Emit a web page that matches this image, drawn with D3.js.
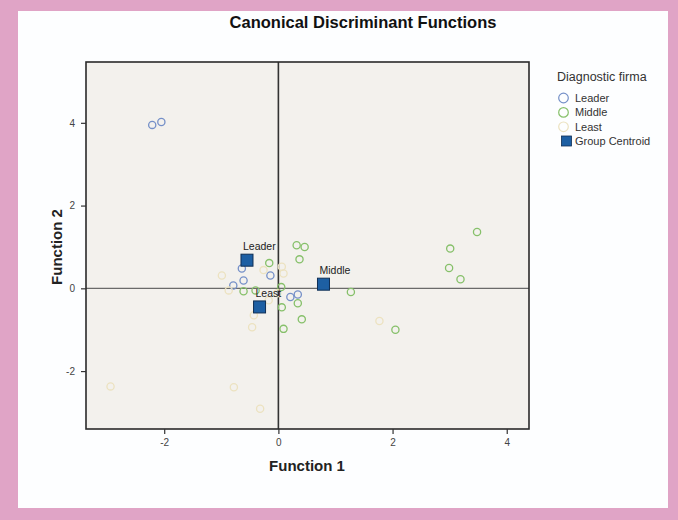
<!DOCTYPE html>
<html>
<head>
<meta charset="utf-8">
<script src="https://cdn.jsdelivr.net/npm/d3@7/dist/d3.min.js"></script>
<style>
  html, body { margin: 0; padding: 0; background: #e0a4c6; }
  svg { display: block; }
  text { font-family: Arial, "Liberation Sans", sans-serif; }
</style>
</head>
<body>
<svg id="chart" width="678" height="520"></svg>
<script>
// Discriminant scores per group (Function 1, Function 2)
const leaderF1 = [-2.21, -2.05, -0.64, -0.61, -0.79, -0.14, 0.21, 0.34];
const leaderF2 = [3.95, 4.02, 0.48, 0.19, 0.07, 0.31, -0.21, -0.15];

const middleF1 = [3.48, 3.01, 2.99, 3.19, 1.27, 2.05, 0.32, 0.46, 0.37, -0.16, -0.61, -0.40, 0.05, 0.06, 0.34, 0.41, 0.09];
const middleF2 = [1.36, 0.96, 0.49, 0.22, -0.09, -1.00, 1.04, 1.00, 0.70, 0.61, -0.07, -0.05, 0.03, -0.46, -0.36, -0.75, -0.98];

const leastF1 = [-2.94, -0.78, -0.32, 1.77, -0.99, -0.87, -0.26, 0.06, 0.09, -0.17, -0.43, -0.46, -0.02];
const leastF2 = [-2.37, -2.39, -2.91, -0.79, 0.31, -0.05, 0.44, 0.52, 0.36, -0.29, -0.65, -0.94, -0.12];

// Group centroids
const centroidNames = ["Leader", "Middle", "Least"];
const centroidF1 = [-0.55, 0.79, -0.33];
const centroidF2 = [0.68, 0.10, -0.45];

const xTicks = [-2, 0, 2, 4];
const yTicks = [-2, 0, 2, 4];

const groupNames = ["Leader", "Middle", "Least"];
const groupColors = ["#7590c8", "#86c06a", "#ece2c0"];

const svg = d3.select("#chart");

// White card inside the pink frame
svg.append("rect").attr("x", 18).attr("y", 11).attr("width", 650).attr("height", 497).attr("fill", "#fdfeff");

const plot = { left: 86, right: 529, top: 62, bottom: 429 };

const x = d3.scaleLinear().domain([-3.37, 4.39]).range([plot.left, plot.right]);
const y = d3.scaleLinear().domain([-3.40, 5.47]).range([plot.bottom, plot.top]);

// Plot background
svg.append("rect")
  .attr("x", plot.left).attr("y", plot.top)
  .attr("width", plot.right - plot.left).attr("height", plot.bottom - plot.top)
  .attr("fill", "#f3f1ed");

// Zero reference lines
svg.append("line")
  .attr("x1", plot.left).attr("x2", plot.right)
  .attr("y1", y(0)).attr("y2", y(0))
  .attr("stroke", "#6a6a6a").attr("stroke-width", 1.2);
svg.append("line")
  .attr("x1", x(0)).attr("x2", x(0))
  .attr("y1", plot.top).attr("y2", plot.bottom)
  .attr("stroke", "#333").attr("stroke-width", 1.6);

// Points
const groups = [
  { f1: leaderF1, f2: leaderF2 },
  { f1: middleF1, f2: middleF2 },
  { f1: leastF1, f2: leastF2 }
];
groups.forEach((g, gi) => {
  svg.append("g").selectAll("circle")
    .data(g.f1.map((v, i) => [v, g.f2[i]]))
    .join("circle")
    .attr("cx", d => x(d[0])).attr("cy", d => y(d[1]))
    .attr("r", 3.6)
    .attr("fill", "none")
    .attr("stroke", groupColors[gi])
    .attr("stroke-width", 1.3);
});

// Centroids with labels
const cent = centroidNames.map((n, i) => ({ name: n, f1: centroidF1[i], f2: centroidF2[i] }));
svg.append("g").selectAll("rect")
  .data(cent).join("rect")
  .attr("x", d => x(d.f1) - 6).attr("y", d => y(d.f2) - 6)
  .attr("width", 12).attr("height", 12)
  .attr("fill", "#1d5fa3").attr("stroke", "#0f2f55").attr("stroke-width", 1);
svg.append("g").selectAll("text")
  .data(cent).join("text")
  .attr("x", d => x(d.f1) - 4).attr("y", d => y(d.f2) - 10)
  .attr("font-size", 10.5).attr("fill", "#222")
  .text(d => d.name);

// Frame
svg.append("rect")
  .attr("x", plot.left).attr("y", plot.top)
  .attr("width", plot.right - plot.left).attr("height", plot.bottom - plot.top)
  .attr("fill", "none").attr("stroke", "#2a2a2a").attr("stroke-width", 1.6);

// Axes (plain hyphen for negative labels)
const fmt = d => String(d);
const xAxis = svg.append("g").attr("transform", `translate(0,${plot.bottom})`)
  .call(d3.axisBottom(x).tickValues(xTicks).tickSize(5).tickPadding(5).tickFormat(fmt));
const yAxis = svg.append("g").attr("transform", `translate(${plot.left},0)`)
  .call(d3.axisLeft(y).tickValues(yTicks).tickSize(5).tickPadding(6).tickFormat(fmt));
[xAxis, yAxis].forEach(a => {
  a.select(".domain").remove();
  a.selectAll(".tick line").attr("stroke", "#333").attr("stroke-width", 1.2);
  a.selectAll(".tick text").attr("font-size", 10).attr("fill", "#444")
    .attr("font-family", "Arial, 'Liberation Sans', sans-serif");
});

// Titles
svg.append("text").attr("x", 363).attr("y", 28).attr("text-anchor", "middle")
  .attr("font-size", 16.5).attr("font-weight", "bold").attr("fill", "#111")
  .text("Canonical Discriminant Functions");
svg.append("text").attr("x", 307).attr("y", 471).attr("text-anchor", "middle")
  .attr("font-size", 15).attr("font-weight", "bold").attr("fill", "#222")
  .text("Function 1");
svg.append("text").attr("transform", `translate(62,247) rotate(-90)`).attr("text-anchor", "middle")
  .attr("font-size", 15).attr("font-weight", "bold").attr("fill", "#222")
  .text("Function 2");

// Legend
const lg = svg.append("g").attr("transform", "translate(557,0)");
lg.append("text").attr("x", 0).attr("y", 81).attr("font-size", 12.5).attr("fill", "#333").text("Diagnostic firma");
groupNames.forEach((n, i) => {
  const cy = 98 + i * 14.4;
  lg.append("circle").attr("cx", 6.5).attr("cy", cy).attr("r", 4.8)
    .attr("fill", "none").attr("stroke", groupColors[i]).attr("stroke-width", 1.2);
  lg.append("text").attr("x", 18).attr("y", cy + 4).attr("font-size", 11).attr("fill", "#333").text(n);
});
lg.append("rect").attr("x", 4.5).attr("y", 136).attr("width", 10).attr("height", 10)
  .attr("fill", "#1d5fa3").attr("stroke", "#0f2f55").attr("stroke-width", 0.8);
lg.append("text").attr("x", 18).attr("y", 145).attr("font-size", 11).attr("fill", "#333").text("Group Centroid");
</script>
</body>
</html>
